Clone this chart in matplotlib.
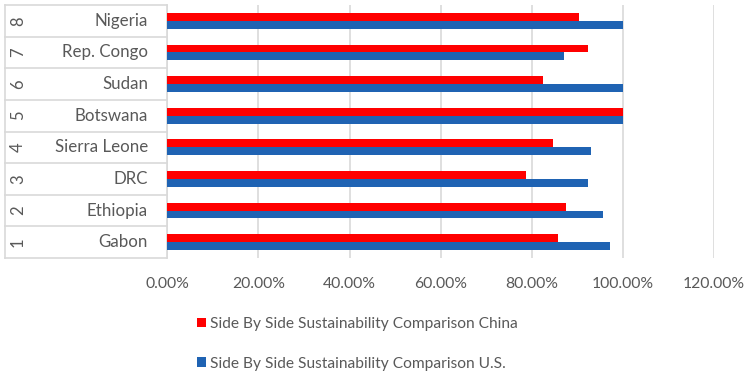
import matplotlib
matplotlib.use("Agg")
import matplotlib.pyplot as plt
from matplotlib.patches import Patch
from matplotlib.ticker import FuncFormatter, MultipleLocator

countries = ["Gabon", "Ethiopia", "DRC", "Sierra Leone", "Botswana", "Sudan", "Rep. Congo", "Nigeria"]
ranks = ["1", "2", "3", "4", "5", "6", "7", "8"]
china = [0.858, 0.876, 0.788, 0.847, 1.00, 0.824, 0.923, 0.903]
us = [0.971, 0.957, 0.923, 0.930, 1.00, 1.00, 0.870, 1.00]
series_names = ["Side By Side Sustainability Comparison China",
                "Side By Side Sustainability Comparison U.S."]

RED = "#FF0000"
BLUE = "#1F63B3"
GRID = "#D9D9D9"
TEXT = "#595959"

plt.rcParams["font.family"] = ["Lato", "DejaVu Sans"]

W, H = 749, 375
fig = plt.figure(figsize=(W / 100, H / 100), dpi=100)
x0, x1, y0, y1 = 167.3, 714.0, 5.0, 258.0
ax = fig.add_axes([x0 / W, 1 - y1 / H, (x1 - x0) / W, (y1 - y0) / H])

ypos = list(range(len(countries)))
bh = 0.25
ax.barh([y + bh / 2 for y in ypos], china, height=bh, color=RED, zorder=3)
ax.barh([y - bh / 2 for y in ypos], us, height=bh, color=BLUE, zorder=3)

ax.set_xlim(0, 1.2)
ax.set_ylim(-0.5, len(countries) - 0.5)
ax.xaxis.set_major_locator(MultipleLocator(0.2))
ax.xaxis.set_major_formatter(FuncFormatter(lambda v, p: f"{v * 100:.2f}%"))
ax.grid(axis="x", color=GRID, linewidth=1.2, zorder=0)
ax.set_yticks([])
ax.tick_params(axis="x", length=0, pad=14, labelsize=11.3, labelcolor=TEXT)
for s in ["top", "right", "bottom"]:
    ax.spines[s].set_visible(False)
ax.spines["left"].set_color(GRID)
ax.spines["left"].set_linewidth(1.2)

# two-level category table on the left
trans = ax.get_yaxis_transform()
axw = x1 - x0
def fx(px):
    return (px - x0) / axw

for k in range(len(countries) + 1):
    ax.plot([fx(5), 0], [k - 0.5, k - 0.5], transform=trans, color=GRID,
            linewidth=1.2, clip_on=False)
ax.plot([fx(5), fx(5)], [-0.5, len(countries) - 0.5], transform=trans,
        color=GRID, linewidth=1.2, clip_on=False)
for y, name, r in zip(ypos, countries, ranks):
    ax.text(fx(148), y, name, transform=trans, ha="right", va="center",
            fontsize=12.2, color=TEXT)
    ax.text(fx(18), y, r, transform=trans, ha="center", va="center",
            rotation=90, fontsize=12, color=TEXT)

handles = [Patch(facecolor=RED), Patch(facecolor=BLUE)]
fig.legend(handles, series_names, loc="upper left",
           bbox_to_anchor=(197 / W, 1 - 317 / H), frameon=False,
           fontsize=11.2, labelcolor=TEXT, handlelength=0.55, handleheight=0.55,
           handletextpad=0.3, labelspacing=1.65, borderpad=0, borderaxespad=0)

fig.savefig("out.png", dpi=100)
